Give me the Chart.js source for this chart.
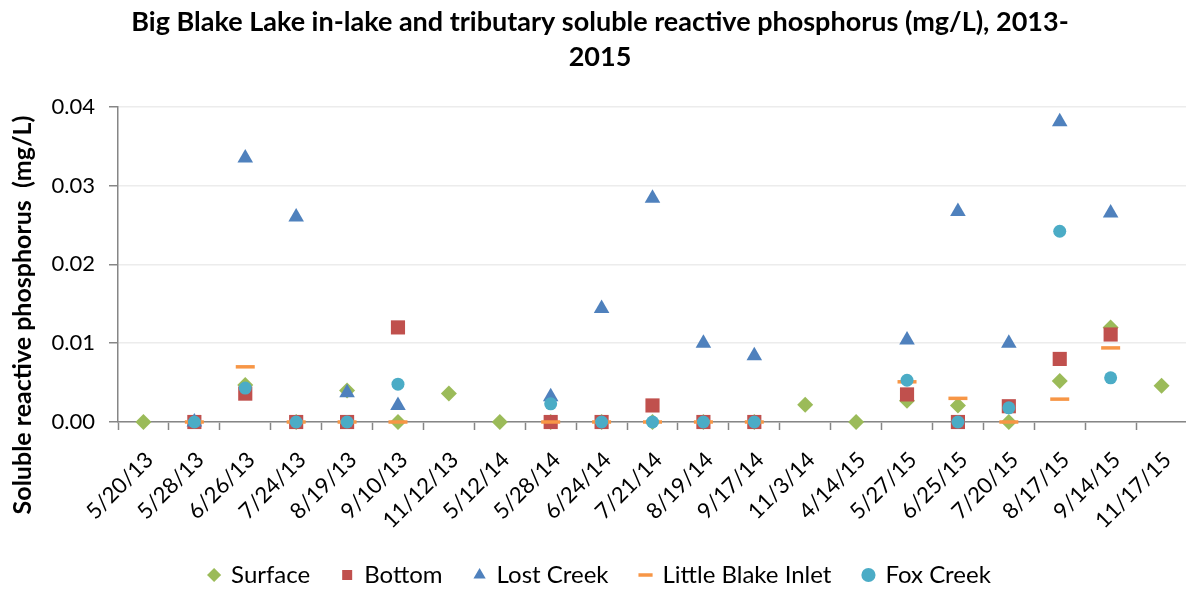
<!DOCTYPE html>
<html lang="en">
<head>
    <meta charset="UTF-8">
    <title>Big Blake Lake soluble reactive phosphorus</title>
    <script src="https://cdn.jsdelivr.net/npm/chart.js"></script>
    <style>
        body {
            margin: 0;
            padding: 0;
            background-color: #fff;
            overflow: hidden;
        }

        /* a bit wider than the window so the plot runs to the right edge like the original */
        .chart-box {
            position: relative;
            width: 1200px;
            height: 590px;
        }
    </style>
</head>
<body>
    <div class="chart-box">
        <canvas id="srpChart"></canvas>
    </div>

    <script>
        // sample dates (x axis)
        const dates = ['5/20/13', '5/28/13', '6/26/13', '7/24/13', '8/19/13', '9/10/13', '11/12/13',
            '5/12/14', '5/28/14', '6/24/14', '7/21/14', '8/19/14', '9/17/14', '11/3/14',
            '4/14/15', '5/27/15', '6/25/15', '7/20/15', '8/17/15', '9/14/15', '11/17/15'];

        // soluble reactive phosphorus, mg/L (null = not sampled)
        const surface = [0, null, 0.0047, 0, 0.0040, 0, 0.0036,
            0, 0, 0, 0, 0, 0, 0.0022,
            0, 0.0027, 0.0021, 0, 0.0052, 0.0120, 0.0046];
        const bottom = [null, 0, 0.0036, 0, 0, 0.0120, null,
            null, 0, 0, 0.0021, 0, 0, null,
            null, 0.0035, 0, 0.0020, 0.0080, 0.0111, null];
        const lostCreek = [null, 0, 0.0335, 0.0260, 0.0037, 0.0021, null,
            null, 0.0032, 0.0144, 0.0284, 0.0100, 0.0084, null,
            null, 0.0104, 0.0267, 0.0100, 0.0381, 0.0265, null];
        const littleBlake = [null, 0, 0.0070, 0, 0, 0, null,
            null, 0, 0, 0, 0, 0, null,
            null, 0.0051, 0.0030, 0, 0.0029, 0.0094, null];
        const foxCreek = [null, 0, 0.0043, 0, 0, 0.0048, null,
            null, 0.0023, 0, 0, 0, 0, null,
            null, 0.0053, 0, 0.0018, 0.0242, 0.0056, null];

        const yTicks = [0, 0.01, 0.02, 0.03, 0.04];

        const font = 'Lato';

        // y axis title is drawn by hand so it can sit lower than the plot centre
        const yTitle = {
            id: 'yTitle',
            afterDraw(chart) {
                const ctx = chart.ctx;
                ctx.save();
                ctx.translate(23, 315);
                ctx.rotate(-Math.PI / 2);
                ctx.font = 'bold 25px ' + font;
                ctx.fillStyle = '#000';
                ctx.textAlign = 'center';
                ctx.textBaseline = 'middle';
                ctx.fillText('Soluble reactive phosphorus  (mg/L)', 0, 0);
                ctx.restore();
            }
        };

        function marker(label, values, color, style, radius, order, lineWidth) {
            return {
                label: label,
                data: values,
                showLine: false,
                order: order,
                clip: false,
                backgroundColor: color,
                borderColor: color,
                pointStyle: style,
                pointRadius: radius,
                pointHoverRadius: radius,
                pointBackgroundColor: color,
                pointBorderColor: color,
                pointBorderWidth: lineWidth || 0
            };
        }

        const config = {
            type: 'line',
            data: {
                labels: dates,
                datasets: [
                    marker('Surface', surface, '#9BBB59', 'rectRot', 8, 5),
                    marker('Bottom', bottom, '#C0504D', 'rect', 10, 4),
                    marker('Lost Creek', lostCreek, '#4F81BD', 'triangle', 9, 3),
                    marker('Little Blake Inlet', littleBlake, '#F79646', 'line', 9.5, 2, 3.5),
                    marker('Fox Creek', foxCreek, '#4BACC6', 'circle', 6.5, 1)
                ]
            },
            options: {
                responsive: true,
                maintainAspectRatio: false,
                animation: false,
                events: [],
                layout: {
                    padding: { left: 0, right: 0, top: 0, bottom: 0 }
                },
                scales: {
                    x: {
                        offset: true,
                        grid: {
                            offset: true,
                            drawOnChartArea: false,
                            tickLength: 8,
                            tickColor: '#868686',
                            tickWidth: 1.5
                        },
                        border: { color: '#868686', width: 1.5 },
                        ticks: {
                            autoSkip: false,
                            minRotation: 45,
                            maxRotation: 45,
                            padding: 17,
                            labelOffset: 6,
                            color: '#000',
                            font: { family: font, size: 22 }
                        },
                        afterFit(scale) {
                            scale.height = 109;
                        }
                    },
                    y: {
                        min: 0,
                        max: 0.04,
                        afterBuildTicks(scale) {
                            scale.ticks = yTicks.map(v => ({ value: v }));
                        },
                        ticks: {
                            padding: 14,
                            color: '#000',
                            font: { family: font, size: 22 },
                            callback: v => v.toFixed(2)
                        },
                        grid: {
                            color: '#ececec',
                            lineWidth: 1.5,
                            tickLength: 9,
                            tickColor: '#868686'
                        },
                        border: { color: '#868686', width: 1.5 },
                        afterFit(scale) {
                            scale.width = 118;
                        }
                    }
                },
                plugins: {
                    title: {
                        display: true,
                        text: ['Big Blake Lake in-lake and tributary soluble reactive phosphorus (mg/L), 2013-', '2015'],
                        color: '#000',
                        font: { family: font, size: 27, weight: 'bold', lineHeight: 1.3 },
                        padding: { top: 4.5, bottom: 32 }
                    },
                    legend: {
                        position: 'bottom',
                        maxHeight: 59,
                        labels: {
                            usePointStyle: true,
                            boxWidth: 10,
                            boxHeight: 10,
                            padding: 32,
                            color: '#000',
                            font: { family: font, size: 24 },
                            sort: (a, b) => a.datasetIndex - b.datasetIndex
                        }
                    },
                    tooltip: { enabled: false }
                }
            },
            plugins: [yTitle]
        };

        const srpChart = new Chart(document.getElementById('srpChart'), config);
    </script>
</body>
</html>
